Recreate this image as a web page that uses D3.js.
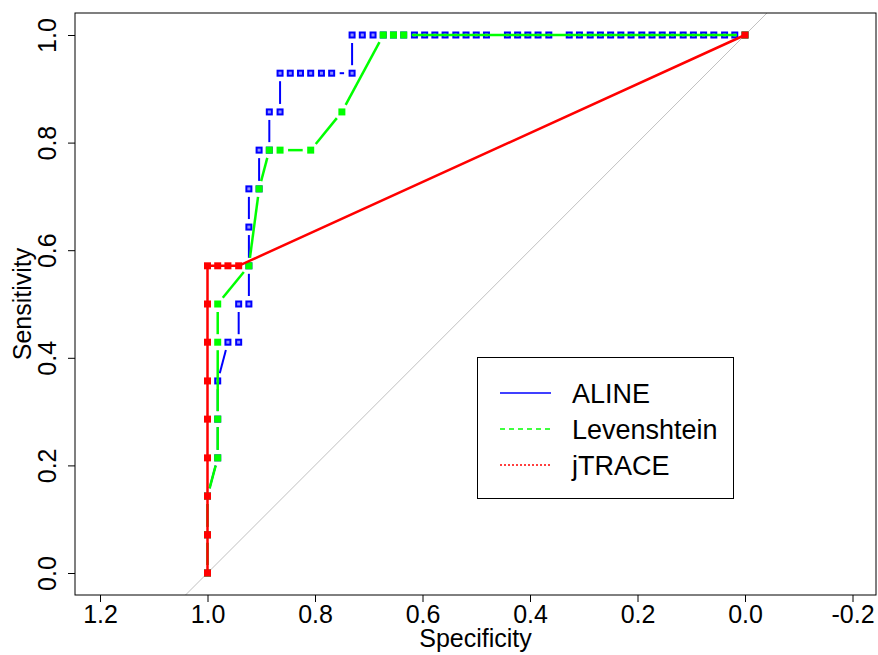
<!DOCTYPE html>
<html>
<head>
<meta charset="utf-8">
<script src="https://cdn.jsdelivr.net/npm/d3@7"></script>
<style>
  body { margin: 0; background: #fff; }
  text { font-family: "Liberation Sans", Arial, sans-serif; fill: #000; }
</style>
</head>
<body>
<svg id="roc"></svg>
<script>
// ROC curves (specificity, sensitivity)
const alineSpec = [1.000, 1.000, 1.000, 0.981, 0.981, 0.981, 0.962, 0.942, 0.942, 0.923, 0.923, 0.923, 0.923,
    0.904, 0.904, 0.885, 0.885, 0.865, 0.865, 0.846, 0.827, 0.808, 0.788, 0.769, 0.731, 0.731, 0.712, 0.692,
    0.673, 0.654, 0.635, 0.615, 0.596, 0.577, 0.558, 0.538, 0.519, 0.500, 0.481, 0.442, 0.423, 0.404, 0.385,
    0.365, 0.327, 0.308, 0.288, 0.269, 0.250, 0.231, 0.212, 0.192, 0.173, 0.154, 0.135, 0.115, 0.096, 0.077,
    0.058, 0.038, 0.019, 0.000];
const alineSens = [0.000, 0.071, 0.143, 0.214, 0.286, 0.357, 0.429, 0.429, 0.500, 0.500, 0.571, 0.643, 0.714,
    0.714, 0.786, 0.786, 0.857, 0.857, 0.929, 0.929, 0.929, 0.929, 0.929, 0.929, 0.929, 1, 1, 1,
    1, 1, 1, 1, 1, 1, 1, 1, 1, 1, 1, 1, 1, 1, 1,
    1, 1, 1, 1, 1, 1, 1, 1, 1, 1, 1, 1, 1, 1, 1,
    1, 1, 1, 1];

const levSpec = [1.000, 1.000, 1.000, 0.981, 0.981, 0.981, 0.981, 0.923, 0.904, 0.885, 0.865, 0.808, 0.750,
    0.673, 0.654, 0.635, 0.000];
const levSens = [0.000, 0.071, 0.143, 0.214, 0.286, 0.429, 0.500, 0.571, 0.714, 0.786, 0.786, 0.786, 0.857,
    1, 1, 1, 1];

const jtraceSpec = [1, 1, 1, 1, 1, 1, 1, 1, 1, 0.981, 0.962, 0.942, 0];
const jtraceSens = [0.000, 0.071, 0.143, 0.214, 0.286, 0.357, 0.429, 0.500, 0.571, 0.571, 0.571, 0.571, 1];

const xTicks = [1.2, 1.0, 0.8, 0.6, 0.4, 0.2, 0.0, -0.2];
const yTicks = [0.0, 0.2, 0.4, 0.6, 0.8, 1.0];
const legendNames = ["ALINE", "Levenshtein", "jTRACE"];

const width = 878, height = 655;
const box = { left: 75, right: 876, top: 13, bottom: 595 };

const svg = d3.select("#roc")
    .attr("width", width)
    .attr("height", height);

// specificity runs backwards, same scale on both axes
const x = d3.scaleLinear().domain([1, 0]).range([207.5, 745]);
const y = d3.scaleLinear().domain([0, 1]).range([573, 35]);

svg.append("clipPath").attr("id", "plotclip")
    .append("rect")
    .attr("x", box.left).attr("y", box.top)
    .attr("width", box.right - box.left).attr("height", box.bottom - box.top);

const plot = svg.append("g").attr("clip-path", "url(#plotclip)");

// chance diagonal
plot.append("line")
    .attr("x1", x(1.5)).attr("y1", y(-0.5))
    .attr("x2", x(-0.5)).attr("y2", y(1.5))
    .style("stroke", "#c0c0c0")
    .style("stroke-width", 1);

function toPoints(spec, sens) {
    return spec.map((s, i) => [x(s), y(sens[i])]);
}

// lines broken around each point (like R type = "b")
function gappedLines(pts, color, lw, gap) {
    const g = plot.append("g");
    for (let i = 0; i < pts.length - 1; i++) {
        const [x0, y0] = pts[i], [x1, y1] = pts[i + 1];
        const len = Math.hypot(x1 - x0, y1 - y0);
        if (len <= 2 * gap) continue;
        const ux = (x1 - x0) / len, uy = (y1 - y0) / len;
        g.append("line")
            .attr("x1", x0 + ux * gap).attr("y1", y0 + uy * gap)
            .attr("x2", x1 - ux * gap).attr("y2", y1 - uy * gap)
            .style("stroke", color)
            .style("stroke-width", lw);
    }
}

function squares(pts, fill, stroke, size) {
    plot.append("g").selectAll("rect")
        .data(pts)
        .join("rect")
        .attr("x", d => d[0] - size / 2)
        .attr("y", d => d[1] - size / 2)
        .attr("width", size)
        .attr("height", size)
        .style("fill", fill)
        .style("stroke", stroke)
        .style("stroke-width", stroke === "none" ? 0 : 2);
}

// ALINE
const alinePts = toPoints(alineSpec, alineSens);
gappedLines(alinePts, "#0000ff", 2, 8);
squares(alinePts, "#9090ff", "#0000ff", 5);

// Levenshtein
const levPts = toPoints(levSpec, levSens);
gappedLines(levPts, "#00ff00", 2.5, 8);
squares(levPts, "#00ff00", "none", 7);

// jTRACE, line drawn through the points
const jtPts = toPoints(jtraceSpec, jtraceSens);
plot.append("path")
    .datum(jtPts)
    .attr("d", d3.line())
    .style("fill", "none")
    .style("stroke", "#ff0000")
    .style("stroke-width", 2.5);
squares(jtPts, "#ff0000", "none", 7);

// axes
const xAxis = svg.append("g")
    .attr("transform", `translate(0,${box.bottom})`)
    .call(d3.axisBottom(x).tickValues(xTicks).tickFormat(d => d.toFixed(1)).tickSize(7).tickPadding(3));
xAxis.select(".domain").remove();
xAxis.selectAll("text").style("font-size", "25px").style("font-family", "Liberation Sans, Arial, sans-serif");

const yAxis = svg.append("g")
    .attr("transform", `translate(${box.left},0)`)
    .call(d3.axisLeft(y).tickValues(yTicks).tickFormat(d => d.toFixed(1)).tickSize(7));
yAxis.select(".domain").remove();
yAxis.selectAll("text")
    .attr("transform", "rotate(-90)")
    .attr("x", 0)
    .attr("y", -19)
    .attr("dy", 0)
    .style("text-anchor", "middle")
    .style("font-size", "25px")
    .style("font-family", "Liberation Sans, Arial, sans-serif");

// frame
svg.append("rect")
    .attr("x", box.left).attr("y", box.top)
    .attr("width", box.right - box.left).attr("height", box.bottom - box.top)
    .style("fill", "none")
    .style("stroke", "#000")
    .style("stroke-width", 1);

// axis labels
svg.append("text")
    .attr("x", (box.left + box.right) / 2)
    .attr("y", 647)
    .style("text-anchor", "middle")
    .style("font-size", "25px")
    .text("Specificity");

svg.append("text")
    .attr("transform", `translate(31,${(box.top + box.bottom) / 2}) rotate(-90)`)
    .style("text-anchor", "middle")
    .style("font-size", "25px")
    .text("Sensitivity");

// legend
const legend = svg.append("g");
legend.append("rect")
    .attr("x", 477.5).attr("y", 357.5)
    .attr("width", 256).attr("height", 141)
    .style("fill", "#fff")
    .style("stroke", "#000")
    .style("stroke-width", 1);

const legendColors = ["#0000ff", "#00ff00", "#ff0000"];
const legendDash = [null, "5,4", "2,2"];
legendNames.forEach((name, i) => {
    const ly = 393 + i * 36;
    legend.append("line")
        .attr("x1", 500).attr("x2", 551)
        .attr("y1", ly).attr("y2", ly)
        .style("stroke", legendColors[i])
        .style("stroke-width", 1.3)
        .style("stroke-dasharray", legendDash[i]);
    legend.append("text")
        .attr("x", 572)
        .attr("y", ly + 10)
        .style("font-size", "27px")
        .text(name);
});
</script>
</body>
</html>
